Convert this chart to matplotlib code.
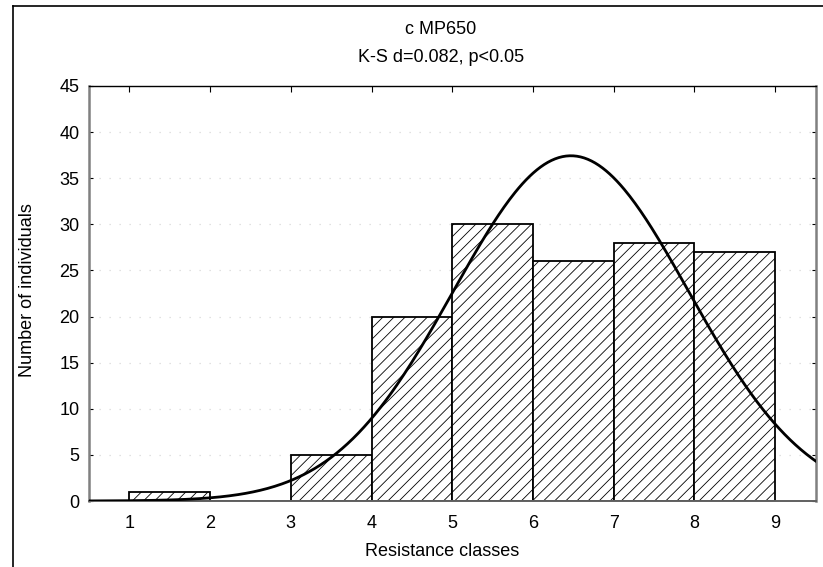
import matplotlib.pyplot as plt
from matplotlib.lines import Line2D
import numpy as np

plt.rcParams['font.family'] = ['Liberation Sans', 'DejaVu Sans']
plt.rcParams['hatch.linewidth'] = 0.6

# class edges and counts per class
bin_left = [1, 2, 3, 4, 5, 6, 7, 8]
counts = [1, 0, 5, 20, 30, 26, 28, 27]

# fitted normal curve parameters
fit_mean = 6.47
fit_sd = 1.46
n_total = sum(counts)

x_ticks = [1, 2, 3, 4, 5, 6, 7, 8, 9]
y_ticks = [0, 5, 10, 15, 20, 25, 30, 35, 40, 45]

W, H = 823, 567
fig = plt.figure(figsize=(W / 100, H / 100), dpi=100)
ax = fig.add_axes([89 / W, 1 - 501 / H, (815.5 - 89) / W, (501 - 86) / H])

ax.bar(bin_left, counts, width=1.0, align='edge', color='white',
       edgecolor='black', linewidth=1.3, hatch='///', zorder=2)

xs = np.linspace(0.5, 9.5, 400)
ys = n_total / (fit_sd * np.sqrt(2 * np.pi)) * np.exp(-(xs - fit_mean) ** 2 / (2 * fit_sd ** 2))
ax.plot(xs, ys, color='black', linewidth=2.0, zorder=3)

ax.set_xlim(0.5, 9.5)
ax.set_ylim(0, 45)
ax.set_xticks(x_ticks)
ax.set_yticks(y_ticks)
ax.tick_params(axis='both', labelsize=13)
ax.tick_params(axis='x', bottom=False, top=True, direction='in', length=4,
               width=0.8, pad=10)
ax.tick_params(axis='y', left=True, right=True, direction='in', length=3,
               width=0.8, pad=7)

ax.yaxis.grid(True, linestyle=(0, (1, 7)), color='#d8d8d8', linewidth=0.9)
ax.set_axisbelow(True)

for side in ['left', 'right']:
    ax.spines[side].set_color('#808080')
    ax.spines[side].set_linewidth(1.8)
ax.spines['bottom'].set_color('#606060')
ax.spines['bottom'].set_linewidth(1.4)
ax.spines['top'].set_color('black')
ax.spines['top'].set_linewidth(1.0)

fig.text(442 / W, 1 - 551 / H, 'Resistance classes', ha='center', va='center', fontsize=13)
fig.text(28 / W, 1 - 290 / H, 'Number of individuals', ha='center', va='center',
         rotation=90, fontsize=13)

fig.text(441 / W, 1 - 29 / H, 'c MP650', ha='center', va='center', fontsize=13)
fig.text(441 / W, 1 - 58 / H, 'K-S d=0.082, p<0.05', ha='center', va='center', fontsize=13)

# outer frame on left and top
fx = 13 / W
fy = 1 - 5.5 / H
fig.add_artist(Line2D([fx, fx], [0, fy], color='black', linewidth=1.2))
fig.add_artist(Line2D([fx, 1], [fy, fy], color='black', linewidth=1.2))

fig.savefig('out.png', dpi=100)
